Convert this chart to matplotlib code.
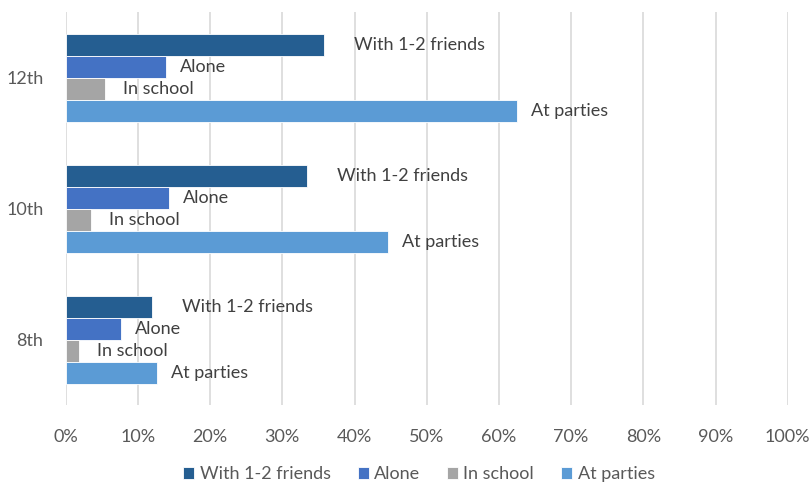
import matplotlib
matplotlib.use("Agg")
import matplotlib.pyplot as plt
import numpy as np

# Share of students drinking in each setting, by grade
grades = ["8th", "10th", "12th"]
series_names = ["With 1-2 friends", "Alone", "In school", "At parties"]
with_friends = [12.0, 33.4, 35.8]
alone = [7.6, 14.3, 13.9]
in_school = [1.9, 3.5, 5.4]
at_parties = [12.7, 44.7, 62.5]
x_ticks = [0, 10, 20, 30, 40, 50, 60, 70, 80, 90, 100]

series_values = [with_friends, alone, in_school, at_parties]
colors = ["#255E91", "#4472C4", "#A5A5A5", "#5B9BD5"]
label_gap_px = [30, 14, 18, 14]

plt.rcParams["font.family"] = ["Lato", "DejaVu Sans"]

fig = plt.figure(figsize=(8.09, 4.84), dpi=100)
ax = fig.add_axes([0.0812, 0.163, 0.8925, 0.812])

bar_h = 0.168
ypos = np.arange(len(grades))
offsets = [1.5 * bar_h, 0.5 * bar_h, -0.5 * bar_h, -1.5 * bar_h]

for vals, name, col, off, gap in zip(series_values, series_names, colors, offsets, label_gap_px):
    ax.barh(ypos + off, vals, height=bar_h, color=col, edgecolor="white",
            linewidth=0.6, label=name, zorder=3)
    for y, v in zip(ypos, vals):
        ax.annotate(name, xy=(v, y + off), xytext=(gap, 0), textcoords="offset pixels",
                    ha="left", va="center", fontsize=13, color="#404040", zorder=4)

ax.set_xlim(0, 100)
ax.set_ylim(-0.5, 2.5)
ax.set_xticks(x_ticks)
ax.set_xticklabels([f"{t}%" for t in x_ticks])
ax.set_yticks(ypos)
ax.set_yticklabels(grades)
ax.tick_params(axis="both", length=0, labelsize=13, labelcolor="#595959")
ax.tick_params(axis="x", pad=17)
ax.tick_params(axis="y", pad=16)
ax.grid(axis="x", color="#D9D9D9", linewidth=1.2, zorder=0)
ax.set_axisbelow(True)
for s in ax.spines.values():
    s.set_visible(False)

handles, labels = ax.get_legend_handles_labels()
leg = fig.legend(handles, labels, loc="center", bbox_to_anchor=(0.518, 0.02),
                 ncol=4, frameon=False, fontsize=13, handlelength=0.6,
                 handleheight=0.6, handletextpad=0.3, columnspacing=1.5)
for t in leg.get_texts():
    t.set_color("#595959")

fig.savefig("out.png", dpi=100)
